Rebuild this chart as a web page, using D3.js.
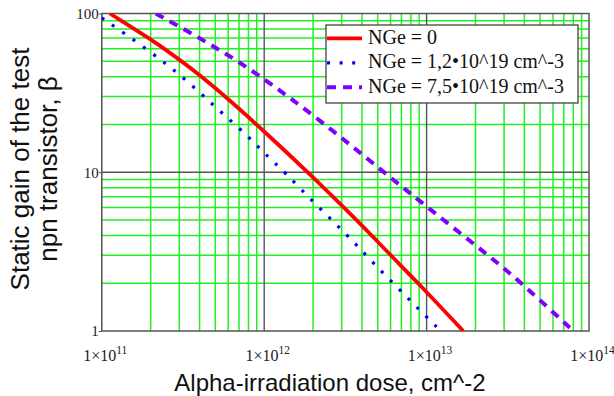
<!DOCTYPE html>
<html lang="en">
<head>
  <meta charset="UTF-8">
  <title>Static gain vs alpha dose</title>
  <style>
    body { margin: 0; padding: 0; background: #fff; }
    svg { display: block; }
    .tick-label { font-family: "Liberation Serif", "Times New Roman", serif; font-size: 15px; fill: #222; }
    .axis-title { font-family: "Liberation Sans", Arial, sans-serif; font-size: 24px; fill: #111; }
    .legend-text { font-family: "Liberation Serif", "Times New Roman", serif; font-size: 20px; fill: #111; }
  </style>
</head>
<body>
  <div id="chart"></div>

  <script src="https://d3js.org/d3.v7.min.js"></script>
  <script>
    // Data: dose (cm^-2) and beta
    const redDose  = [1.12e11, 2e11, 3e11, 4e11, 6e11, 1e12, 1.86e12, 3.72e12, 6e12, 8.9e12, 1.68e13];
    const redBeta  = [100, 69, 51.4, 41, 29, 18.1, 10, 5, 3, 2, 1];

    const blueDose = [1e11, 1.96e11, 3.2e11, 5.1e11, 7.8e11, 1e12, 1.34e12, 2.04e12, 3.22e12, 4.76e12, 8.1e12, 1.22e13];
    const blueBeta = [94, 58.3, 39.4, 25.3, 17.2, 13.2, 10, 6.37, 4.06, 2.64, 1.52, 1];

    const purpleDose = [2.15e11, 2.89e11, 5.35e11, 9e11, 2.21e12, 5.4e12, 1e13, 2.4e13, 3.86e13, 8e13];
    const purpleBeta = [100, 84.6, 58.9, 42, 21.3, 10.1, 6.07, 3, 2, 1];

    const seriesNames = ["NGe = 0", "NGe = 1,2\u202210^19 cm^-3", "NGe = 7,5\u202210^19 cm^-3"];
    const xTicks = [1e11, 1e12, 1e13, 1e14];
    const xTickExp = ["11", "12", "13", "14"];
    const yTicks = [1, 10, 100];
    const yTickLabels = ["1", "10", "100"];

    const width = 614, height = 396;
    const pLeft = 101.8, pRight = 589, pTop = 13.5, pBottom = 331;

    const x = d3.scaleLog().domain([1e11, 1e14]).range([pLeft, pRight]);
    const y = d3.scaleLog().domain([1, 100]).range([pBottom, pTop]);

    const svg = d3.select("#chart").append("svg")
      .attr("width", width).attr("height", height);

    svg.append("rect").attr("width", width).attr("height", height).attr("fill", "#fff");

    // grid: green minor lines, dark decade lines
    const minorX = [], minorY = [];
    [1e11, 1e12, 1e13].forEach(d => { for (let k = 2; k <= 9; k++) minorX.push(d * k); });
    [1, 10].forEach(d => { for (let k = 2; k <= 9; k++) minorY.push(d * k); });

    const grid = svg.append("g");
    grid.selectAll(".gx").data(minorX).enter().append("line")
      .attr("x1", d => x(d)).attr("x2", d => x(d))
      .attr("y1", pTop).attr("y2", pBottom)
      .attr("stroke", "#22f022").attr("stroke-width", 1.5);
    grid.selectAll(".gy").data(minorY).enter().append("line")
      .attr("x1", pLeft).attr("x2", pRight)
      .attr("y1", d => y(d)).attr("y2", d => y(d))
      .attr("stroke", "#22f022").attr("stroke-width", 1.5);

    grid.selectAll(".mx").data([1e12, 1e13]).enter().append("line")
      .attr("x1", d => x(d)).attr("x2", d => x(d))
      .attr("y1", pTop).attr("y2", pBottom)
      .attr("stroke", "#555").attr("stroke-width", 1.4);
    grid.selectAll(".my").data([10]).enter().append("line")
      .attr("x1", pLeft).attr("x2", pRight)
      .attr("y1", d => y(d)).attr("y2", d => y(d))
      .attr("stroke", "#555").attr("stroke-width", 1.4);

    svg.append("rect")
      .attr("x", pLeft).attr("y", pTop)
      .attr("width", pRight - pLeft).attr("height", pBottom - pTop)
      .attr("fill", "none").attr("stroke", "#555").attr("stroke-width", 1.5);

    // axes (labels only)
    const yAxis = svg.append("g")
      .attr("transform", `translate(${pLeft},0)`)
      .call(d3.axisLeft(y).tickValues(yTicks).tickSize(3).tickFormat((d, i) => yTickLabels[i]));
    yAxis.select(".domain").remove();
    yAxis.attr("font-family", null).attr("font-size", null);
    yAxis.selectAll("line").attr("stroke", "#555");
    yAxis.selectAll("text").attr("class", "tick-label").attr("x", -3);

    const xAxis = svg.append("g")
      .attr("transform", `translate(0,${pBottom})`)
      .call(d3.axisBottom(x).tickValues(xTicks).tickSize(0).tickFormat(() => ""));
    xAxis.select(".domain").remove();
    xAxis.attr("font-family", null).attr("font-size", null);
    xAxis.selectAll("text").each(function (d, i) {
      const t = d3.select(this)
        .attr("class", "tick-label").style("font-size", "16px")
        .attr("x", 3).attr("y", 30).attr("dy", null).attr("text-anchor", "middle");
      t.append("tspan").text("1\u00d710");
      t.append("tspan").attr("dy", -7).style("font-size", "11.5px").text(xTickExp[i]);
    });

    // clipped curves
    svg.append("clipPath").attr("id", "clip").append("rect")
      .attr("x", pLeft).attr("y", pTop).attr("width", pRight - pLeft).attr("height", pBottom - pTop);

    const line = d3.line()
      .x(d => x(d[0])).y(d => y(d[1]))
      .curve(d3.curveBasis);

    const plot = svg.append("g").attr("clip-path", "url(#clip)");

    plot.append("path")
      .attr("d", line(d3.zip(purpleDose, purpleBeta)))
      .attr("fill", "none").attr("stroke", "#8000ff").attr("stroke-width", 4)
      .attr("stroke-dasharray", "9,7");

    plot.append("path")
      .attr("d", line(d3.zip(blueDose, blueBeta)))
      .attr("fill", "none").attr("stroke", "#0000ff").attr("stroke-width", 3.2)
      .attr("stroke-dasharray", "3,9.6");

    plot.append("path")
      .attr("d", line(d3.zip(redDose, redBeta)))
      .attr("fill", "none").attr("stroke", "#ff0000").attr("stroke-width", 3.8);

    // legend
    const lg = svg.append("g");
    lg.append("rect").attr("x", 326).attr("y", 25).attr("width", 252).attr("height", 78)
      .attr("fill", "#fff").attr("stroke", "#444").attr("stroke-width", 1.3);
    const styles = [
      { color: "#ff0000", w: 3.8, dash: null },
      { color: "#0000ff", w: 3.2, dash: "3,9.6" },
      { color: "#8000ff", w: 4, dash: "9,7" }
    ];
    seriesNames.forEach((name, i) => {
      const cy = 38.3 + i * 24.5;
      lg.append("line").attr("x1", 327).attr("x2", 362).attr("y1", cy).attr("y2", cy)
        .attr("stroke", styles[i].color).attr("stroke-width", styles[i].w)
        .attr("stroke-dasharray", styles[i].dash);
      lg.append("text").attr("class", "legend-text").attr("x", 368).attr("y", cy + 5.2).text(name);
    });

    // axis titles
    svg.append("text").attr("class", "axis-title")
      .attr("x", 330).attr("y", 391).attr("text-anchor", "middle")
      .text("Alpha-irradiation dose, cm^-2");

    const yt = svg.append("text").attr("class", "axis-title").style("font-size", "26px")
      .attr("transform", "translate(29,169) rotate(-90)").attr("text-anchor", "middle");
    yt.append("tspan").attr("x", 0).attr("y", 0).text("Static gain of the test");
    yt.append("tspan").attr("x", 0).attr("y", 28).text("npn transistor, \u03b2");
  </script>
</body>
</html>
